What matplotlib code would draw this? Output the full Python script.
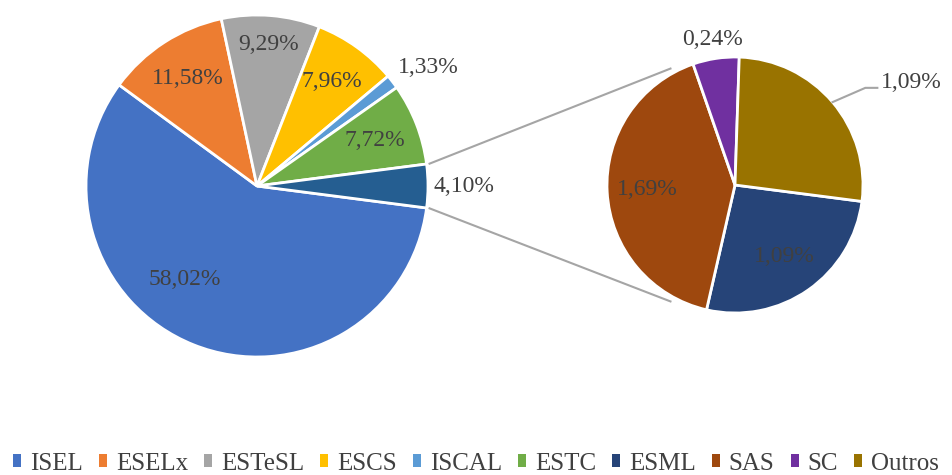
import numpy as np
import matplotlib
matplotlib.use("Agg")
import matplotlib.pyplot as plt
from matplotlib.patches import Patch

plt.rcParams['font.family'] = ['Liberation Serif', 'DejaVu Serif']

# main pie
main_labels = ["ISEL", "ESELx", "ESTeSL", "ESCS", "ISCAL", "ESTC"]
main_values = [58.02, 11.58, 9.29, 7.96, 1.33, 7.72]
main_colors = ["#4472C4", "#ED7D31", "#A5A5A5", "#FFC000", "#5B9BD5", "#70AD47"]
other_value = 4.10
other_color = "#255E91"

# breakdown of the grouped slice
sub_labels = ["ESML", "SAS", "SC", "Outros"]
sub_values = [1.09, 1.69, 0.24, 1.09]
sub_colors = ["#264478", "#9E480E", "#7030A0", "#997300"]

TXT = "#404040"
LINE = "#A5A5A5"
FS = 17

W, H = 952, 475
fig = plt.figure(figsize=(W / 100, H / 100), dpi=100)
ax = fig.add_axes([0, 0, 1, 1])

c1, r1 = np.array([257, 289]), 171
c2, r2 = np.array([735, 290]), 128
wp = dict(edgecolor="white", linewidth=2)


def fmt(v):
    return f"{v:.2f}%".replace(".", ",")


def polar(c, r, deg):
    a = np.deg2rad(deg)
    return c + r * np.array([np.cos(a), np.sin(a)])


vals1 = main_values + [other_value]
start = -other_value * 360 / 200
w1, _ = ax.pie(vals1, colors=main_colors + [other_color], center=tuple(c1), radius=r1,
               startangle=start, counterclock=False, wedgeprops=wp, frame=True)

w2, _ = ax.pie(sub_values, colors=sub_colors, center=tuple(c2), radius=r2,
               startangle=start, counterclock=False, wedgeprops=wp, frame=True)

# main labels: radius factor and angular nudge per slice
lab_r1 = [0.69, 0.75, 0.83, 0.75, 1.22, 0.74, 1.21]
lab_da1 = [-16, 0, 0, 0, -3, 0, 0]
for w, v, rf, da in zip(w1, vals1, lab_r1, lab_da1):
    mid = (w.theta1 + w.theta2) / 2 + da
    x, y = polar(c1, r1 * rf, mid)
    ax.text(x, y, fmt(v), ha="center", va="center", fontsize=FS, color=TXT)

# secondary labels
lab_r2 = [0.68, 0.69, 1.15]
for w, v, rf in zip(w2[:3], sub_values[:3], lab_r2):
    mid = (w.theta1 + w.theta2) / 2
    x, y = polar(c2, r2 * rf, mid)
    ax.text(x, y, fmt(v), ha="center", va="center", fontsize=FS, color=TXT)

# Outros label with leader line
w = w2[3]
mid = (w.theta1 + w.theta2) / 2
p0 = polar(c2, r2, mid)
elbow = polar(c2, r2 * 1.27, 36.7)
p1 = elbow + np.array([12, 0])
ax.plot([p0[0], elbow[0], p1[0]], [p0[1], elbow[1], p1[1]], color=LINE, lw=1.5)
ax.text(p1[0] + 4, p1[1] + 5, fmt(sub_values[3]), ha="left", va="center",
        fontsize=FS, color=TXT)

# connectors between the grouped slice and the second pie
wo = w1[-1]
for th, ang in [(wo.theta2, 119), (wo.theta1, -119)]:
    a = polar(c1, r1 + 3, th)
    b = polar(c2, r2 * 1.04, ang)
    ax.plot([a[0], b[0]], [a[1], b[1]], color=LINE, lw=1.5)

ax.set_xlim(0, W)
ax.set_ylim(0, H)
ax.set_aspect("equal")
ax.axis("off")

handles = [Patch(facecolor=c) for c in main_colors + sub_colors]
fig.legend(handles, main_labels + sub_labels, loc="center", bbox_to_anchor=(0.5, 0.024),
           ncol=10, frameon=False, handlelength=0.32, handleheight=0.45, handletextpad=0.35,
           columnspacing=0.65, fontsize=18, labelcolor=TXT, borderaxespad=0,
           borderpad=0)

fig.savefig("out.png", dpi=100)
